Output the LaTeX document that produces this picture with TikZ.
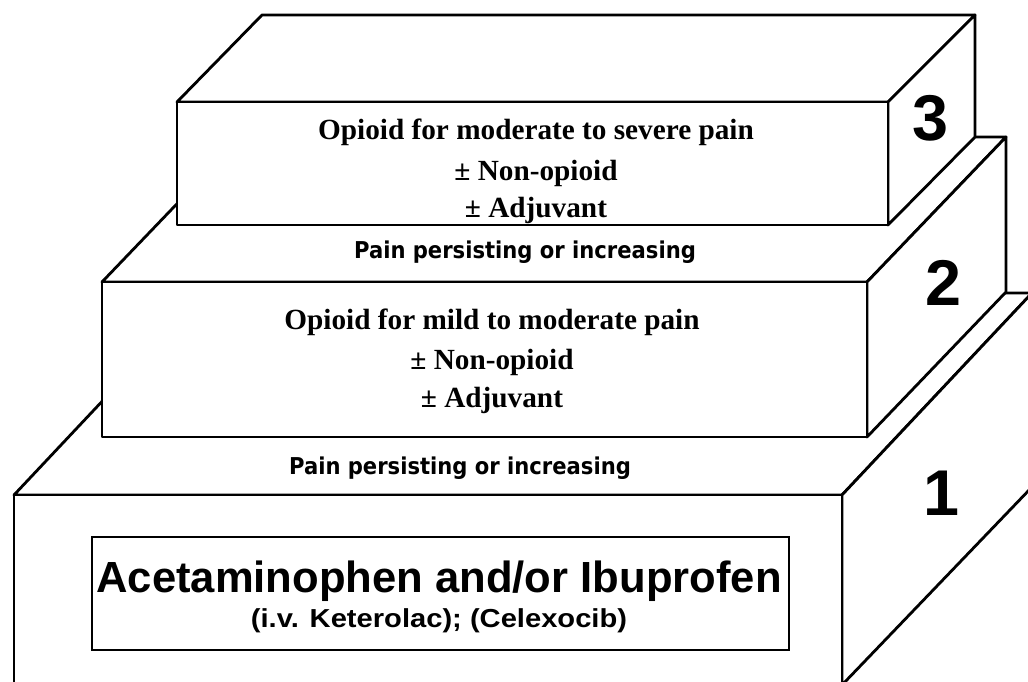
\documentclass[tikz,border=0pt]{standalone}
\usepackage{fontspec}
\usepackage{graphicx}
\setmainfont{Liberation Serif}
\newfontfamily\arialf{Liberation Sans}
\newfontfamily\painf{DejaVu Sans}
\begin{document}
\begin{tikzpicture}[x=0.025cm,y=-0.025cm,
  face/.style={draw=black, line width=2pt, line join=round, fill=white},
  innerbox/.style={draw=black, line width=1.6pt},
  serifline/.style={font=\fontsize{20.8}{24}\selectfont\bfseries, inner sep=0pt, anchor=base},
  painline/.style={font=\painf\fontsize{16.5}{19}\selectfont\bfseries, inner sep=0pt, anchor=base},
  mainline/.style={font=\arialf\fontsize{31}{36}\selectfont\bfseries, inner sep=0pt, anchor=base},
  subline/.style={font=\arialf\fontsize{18.5}{22}\selectfont\bfseries, inner sep=0pt, anchor=base},
  stepnum/.style={font=\arialf\fontsize{46}{50}\selectfont\bfseries, inner sep=0pt}]
\clip (0,0) rectangle (1028,682);
\fill[white] (0,0) rectangle (1028,682);
% ---- step 1 (bottom block)
\draw[face] (14,495) -- (842,495) -- (1032,293) -- (204,293) -- cycle;
\draw[face] (842,495) -- (1032,293) -- (1032,487) -- (842,685) -- cycle;
\draw[face] (14,495) rectangle (842,685);
\draw[innerbox] (92,537) rectangle (789,650);
% ---- step 2 (middle block)
\draw[face] (102,282) -- (867,282) -- (1006,137) -- (241,137) -- cycle;
\draw[face] (867,282) -- (1006,137) -- (1006,292) -- (867,437) -- cycle;
\draw[face] (102,282) rectangle (867,437);
% ---- step 3 (top block)
\draw[face] (177,102) -- (888,102) -- (975,15) -- (262,15) -- cycle;
\draw[face] (888,102) -- (975,15) -- (975,137) -- (888,225) -- cycle;
\draw[face] (177,102) rectangle (888,225);
% ---- texts of step 3
\node[serifline] (s3a) at (536,140) {Opioid for moderate to severe pain};
\node[serifline] (s3b) at (536,181) {± Non-opioid};
\node[serifline] (s3c) at (536,218) {± Adjuvant};
\node[painline] (p3) at (525,259) {\scalebox{0.91}[1]{Pain persisting or increasing}};
% ---- texts of step 2
\node[serifline] (s2a) at (492,330) {Opioid for mild to moderate pain};
\node[serifline] (s2b) at (492,370) {± Non-opioid};
\node[serifline] (s2c) at (492,408) {± Adjuvant};
\node[painline] (p2) at (460,475) {\scalebox{0.91}[1]{Pain persisting or increasing}};
% ---- texts of step 1
\node[mainline] (s1a) at (439,592) {Acetaminophen and/or Ibuprofen};
\node[subline] (s1b) at (439,627) {\scalebox{1.12}[1]{(i.v. Keterolac); (Celexocib)}};
% ---- step numbers
\node[stepnum] (n3) at (930,118) {3};
\node[stepnum] (n2) at (943,283) {2};
\node[stepnum] (n1) at (941,493) {1};
\end{tikzpicture}
\end{document}
